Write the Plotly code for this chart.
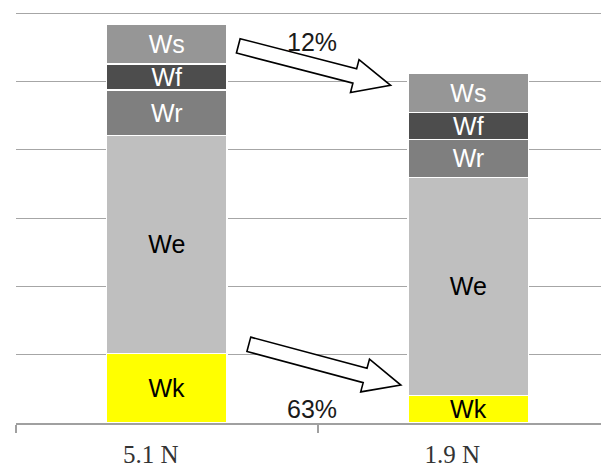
import math
import plotly.graph_objects as go

# ---- data ----
categories = ["5.1 N", "1.9 N"]
segments = ["Wk", "We", "Wr", "Wf", "Ws"]
Wk = [1.02, 0.40]
We = [3.19, 3.20]
Wr = [0.67, 0.55]
Wf = [0.38, 0.40]
Ws = [0.58, 0.57]
values = {"Wk": Wk, "We": We, "Wr": Wr, "Wf": Wf, "Ws": Ws}
colors = {"Wk": "#ffff00", "We": "#bfbfbf", "Wr": "#7f7f7f", "Wf": "#4d4d4d", "Ws": "#969696"}
textcolors = {"Wk": "#000000", "We": "#000000", "Wr": "#ffffff", "Wf": "#ffffff", "Ws": "#ffffff"}
pct_labels = ["12%", "63%"]

# ---- layout constants (page has an 8px body margin) ----
W, H = 601, 460
ML, MR, MT, MB = 8, 0, 2, 45
PW, PH = W - ML - MR, H - MT - MB
CAT_PX = 301.6
XMIN = -0.5
XMAX = XMIN + PW / CAT_PX
YMIN, YMAX = 0, 6.05
sx = PW / (XMAX - XMIN)
sy = PH / (YMAX - YMIN)

fig = go.Figure()
for s in segments:
    fig.add_trace(go.Bar(
        x=categories, y=values[s], name=s,
        text=[s] * len(categories), textposition="inside",
        insidetextanchor="middle", textangle=0, constraintext="none",
        textfont=dict(family="Liberation Sans, Arial", size=25, color=textcolors[s]),
        marker=dict(color=colors[s], line=dict(color="#ffffff", width=1.5)),
        width=0.4, hoverinfo="skip",
    ))

def to_px(x, y):
    return ((x - XMIN) * sx, (y - YMIN) * sy)

def to_paper(px, py):
    return (px / PW, py / PH)

def arrow_path(x0, y0, x1, y1, half_shaft=7.4, half_head=17, head_len=37):
    p0 = to_px(x0, y0)
    p1 = to_px(x1, y1)
    dx, dy = p1[0] - p0[0], p1[1] - p0[1]
    L = math.hypot(dx, dy)
    ux, uy = dx / L, dy / L
    nx, ny = -uy, ux
    bx, by = p1[0] - ux * head_len, p1[1] - uy * head_len
    pts = [
        (p0[0] + nx * half_shaft, p0[1] + ny * half_shaft),
        (bx + nx * half_shaft, by + ny * half_shaft),
        (bx + nx * half_head, by + ny * half_head),
        p1,
        (bx - nx * half_head, by - ny * half_head),
        (bx - nx * half_shaft, by - ny * half_shaft),
        (p0[0] - nx * half_shaft, p0[1] - ny * half_shaft),
    ]
    pp = [to_paper(*p) for p in pts]
    return "M " + " L ".join(f"{a:.5f},{b:.5f}" for a, b in pp) + " Z"

arrows = [((0.237, 5.525), (0.742, 4.947)), ((0.272, 1.153), (0.776, 0.556))]
for (a, b) in arrows:
    fig.add_shape(type="path", xref="paper", yref="paper",
                  path=arrow_path(a[0], a[1], b[0], b[1]),
                  fillcolor="#ffffff", line=dict(color="#000000", width=1.6))

pct_pos = [(0.483, 5.58), (0.483, 0.205)]
for t, (x, y) in zip(pct_labels, pct_pos):
    px, py = to_px(x, y)
    fig.add_annotation(x=px / PW, y=py / PH, xref="paper", yref="paper",
                       xanchor="center", yanchor="middle",
                       text=t, showarrow=False,
                       font=dict(family="Liberation Sans, Arial", size=25, color="#1a1a1a"))

fig.update_layout(
    barmode="stack", width=W, height=H, showlegend=False,
    margin=dict(l=ML, r=MR, t=MT, b=MB),
    paper_bgcolor="#ffffff", plot_bgcolor="#ffffff",
    xaxis=dict(type="category", range=[XMIN, XMAX], tickson="boundaries",
               ticks="outside", ticklen=8, tickcolor="#a0a0a0", tickwidth=1.5,
               showline=True, linecolor="#a0a0a0", linewidth=1.5,
               showgrid=False, ticklabelshift=-16, ticklabelstandoff=8,
               tickfont=dict(family="Liberation Serif, Times New Roman", size=25, color="#333333")),
    yaxis=dict(range=[YMIN, YMAX], dtick=1, showgrid=True, gridcolor="#a6a6a6",
               gridwidth=1.4, showticklabels=False, zeroline=False, showline=False),
)

fig.write_html("out.html")
